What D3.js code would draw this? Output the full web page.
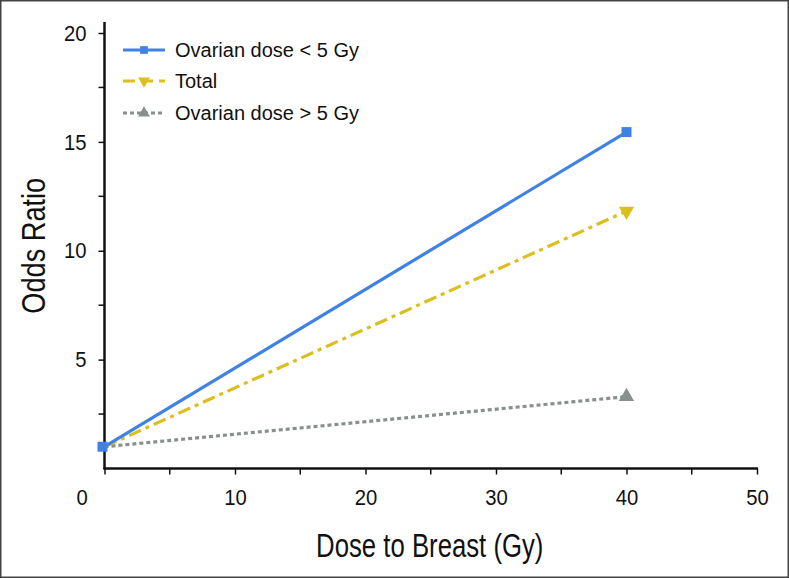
<!DOCTYPE html>
<html><head><meta charset="utf-8">
<script src="https://cdn.jsdelivr.net/npm/d3@7"></script>
<style>
html,body{margin:0;padding:0;background:#fff;}
svg{display:block;}
</style></head>
<body>
<svg id="chart" width="789" height="578"></svg>
<script>
const doseX = [0, 40];
const seriesNames = ["Ovarian dose < 5 Gy", "Total", "Ovarian dose > 5 Gy"];
const lowOvarian = [1.0, 15.45];
const totalVals = [1.0, 11.82];
const highOvarian = [1.0, 3.3];
const xTicks = [0, 10, 20, 30, 40, 50];
const xMinorTicks = [5, 15, 25, 35, 45];
const yTicks = [5, 10, 15, 20];
const yMinorTicks = [2.5, 7.5, 12.5, 17.5];

const svg = d3.select("#chart");
const W = 789, H = 578;
svg.append("rect").attr("x",0.75).attr("y",0.75).attr("width",W-1.5).attr("height",H-1.5)
  .attr("fill","#fff").attr("stroke","#444").attr("stroke-width",1.5);

const x = d3.scaleLinear().domain([0,50]).range([104.5,757]);
const y = d3.scaleLinear().domain([0,20]).range([468.5,33]);

const fam = "'Liberation Sans',Arial,sans-serif";
const SX = 0.9;

// axes
const xAxis = svg.append("g").attr("transform",`translate(0,${y(0)})`)
  .call(d3.axisBottom(x).tickValues(xTicks).tickSize(6).tickPadding(15).tickFormat(d3.format("d")));
xAxis.select(".domain").remove();
xAxis.append("line").attr("x1",x(0)-1).attr("x2",x(50)+1).attr("stroke","#111").attr("stroke-width",2.5);
xAxis.selectAll(".tick line").attr("stroke","#111").attr("stroke-width",1.5);
xAxis.selectAll(".tick text").attr("fill","#111").style("font-family",fam).style("font-size","22.5px")
  .attr("transform",`scale(${SX},1)`)
  .attr("dx", d => d===0 ? -23/SX : 0);
svg.append("g").attr("transform",`translate(0,${y(0)})`)
  .selectAll("line").data(xMinorTicks).join("line")
  .attr("x1",d=>x(d)).attr("x2",d=>x(d)).attr("y1",0).attr("y2",6)
  .attr("stroke","#111").attr("stroke-width",1.5);

const yAxis = svg.append("g").attr("transform",`translate(${x(0)},0)`)
  .call(d3.axisLeft(y).tickValues(yTicks).tickSize(6).tickPadding(12).tickFormat(d3.format("d")));
yAxis.select(".domain").remove();
yAxis.append("line").attr("y1",y(20.5)).attr("y2",y(0)+1).attr("stroke","#111").attr("stroke-width",2.5);
yAxis.selectAll(".tick line").attr("stroke","#111").attr("stroke-width",1.5);
yAxis.selectAll(".tick text").attr("fill","#111").style("font-family",fam).style("font-size","22.5px")
  .attr("x", -18/SX).attr("transform",`scale(${SX},1)`);
svg.append("g").attr("transform",`translate(${x(0)},0)`)
  .selectAll("line").data(yMinorTicks).join("line")
  .attr("y1",d=>y(d)).attr("y2",d=>y(d)).attr("x1",0).attr("x2",-6)
  .attr("stroke","#111").attr("stroke-width",1.5);

// axis titles
svg.append("text").attr("transform",`translate(${x(25)-1},557) scale(0.78,1)`).attr("text-anchor","middle")
  .style("font-family",fam).style("font-size","33px").attr("fill","#111").text("Dose to Breast (Gy)");
svg.append("text").attr("transform",`translate(45,${y(10)-5}) rotate(-90) scale(0.8,1)`).attr("text-anchor","middle")
  .style("font-family",fam).style("font-size","34px").attr("fill","#111").text("Odds Ratio");

// series
const series = [
  {name:seriesNames[0], vals:lowOvarian, color:"#3f82e4", dash:null, width:3.2, sym:d3.symbolSquare, size:100, rot:0},
  {name:seriesNames[1], vals:totalVals, color:"#dcbf1e", dash:"13,5,4,5", width:3.2, sym:d3.symbolTriangle, size:100, rot:180},
  {name:seriesNames[2], vals:highOvarian, color:"#86908d", dash:"4,3", width:3.2, sym:d3.symbolTriangle, size:100, rot:0}
];
const line = d3.line().x(d=>x(d[0])).y(d=>y(d[1]));
series.slice().reverse().forEach(s=>{
  const pts = doseX.map((dx,i)=>[dx,s.vals[i]]);
  svg.append("path").attr("d",line(pts)).attr("fill","none").attr("stroke",s.color)
    .attr("stroke-width",s.width).attr("stroke-dasharray",s.dash);
  svg.append("path").attr("d",d3.symbol(s.sym,s.size)())
    .attr("transform",`translate(${x(pts[1][0])},${y(pts[1][1])}) rotate(${s.rot})`)
    .attr("fill",s.color);
});
svg.append("path").attr("d",d3.symbol(d3.symbolSquare,100)())
  .attr("transform",`translate(${x(0)-2},${y(1.0)})`).attr("fill",series[0].color);

// legend
const lg = svg.append("g");
const rows = [50, 81, 113];
series.forEach((s,i)=>{
  const yy = rows[i];
  lg.append("line").attr("x1",123).attr("x2",165).attr("y1",yy).attr("y2",yy)
    .attr("stroke",s.color).attr("stroke-width",3.2).attr("stroke-dasharray", i===1 ? "12,6" : s.dash);
  lg.append("path").attr("d",d3.symbol(s.sym, 60)())
    .attr("transform",`translate(144,${yy}) rotate(${s.rot})`).attr("fill",s.color);
  lg.append("text").attr("x",175).attr("y",yy).attr("dy","0.36em")
    .style("font-family",fam).style("font-size","20px").attr("fill","#111").text(s.name);
});
</script>
</body></html>
